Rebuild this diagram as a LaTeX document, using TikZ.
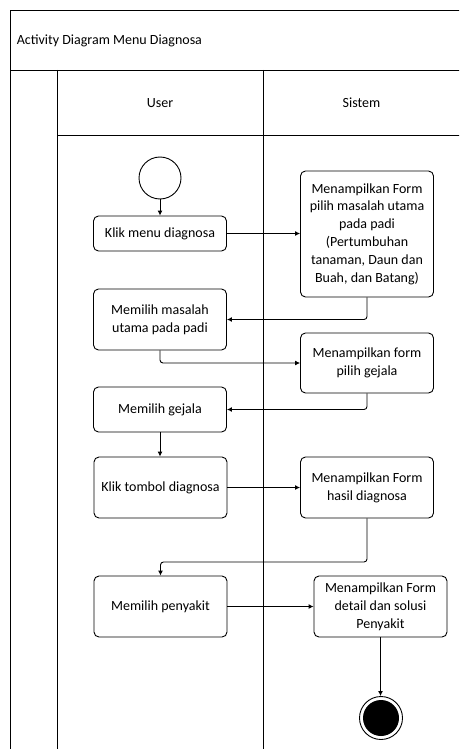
\documentclass[tikz,border=0pt]{standalone}
\usepackage{fontspec}
\setmainfont{Carlito}
\usetikzlibrary{arrows.meta}

\begin{document}
\begin{tikzpicture}[x=1pt,y=-1pt,line width=0.9pt,
        font=\fontsize{14}{17.8}\selectfont,
        activity/.style={draw,rounded corners=5pt,minimum width=133pt,align=center,inner sep=0pt},
        flow/.style={-{Latex[length=5pt,width=5pt]},rounded corners=3pt},
        lane/.style={line width=0.9pt}]
    \useasboundingbox (0,0) rectangle (459,749);
    \begin{scope}
        \clip (0,0) rectangle (459,749);
        % swimlane frame
        \draw[lane] (10,760) -- (10,10) -- (470,10);
        \draw[lane] (10,70) -- (470,70);
        \draw[lane] (57,70) -- (57,760);
        \draw[lane] (263,70) -- (263,760);
        \draw[lane] (57,135) -- (470,135);
    \end{scope}
    \node[anchor=west] (title) at (13,41) {Activity Diagram Menu Diagnosa};
    \node (user) at (160,103) {User};
    \node (sistem) at (361.5,103) {Sistem};

    % activities
    \node[circle,draw,minimum size=42pt,inner sep=0pt] (start) at (160,178) {};
    \node[activity,minimum height=35pt] (klik) at (160,233.5) {Klik menu diagnosa};
    \node[activity,minimum height=126pt] (formmasalah) at (367,234) {Menampilkan Form\\pilih masalah utama\\pada padi\\(Pertumbuhan\\tanaman, Daun dan\\Buah, dan Batang)};
    \node[activity,minimum height=61pt] (masalah) at (160,319.5) {Memilih masalah\\utama pada padi};
    \node[activity,minimum height=60pt] (formgejala) at (367,363) {Menampilkan form\\pilih gejala};
    \node[activity,minimum height=45pt] (gejala) at (160,409.5) {Memilih gejala};
    \node[activity,minimum height=61pt] (tombol) at (160.5,487.5) {Klik tombol diagnosa};
    \node[activity,minimum height=61pt] (formhasil) at (367,487.5) {Menampilkan Form\\hasil diagnosa};
    \node[activity,minimum height=61pt] (penyakit) at (160.5,606.5) {Memilih penyakit};
    \node[activity,minimum height=61pt] (formsolusi) at (380.5,606.5) {Menampilkan Form\\detail dan solusi\\Penyakit};
    \node[circle,draw,minimum size=43pt,inner sep=0pt] (finish) at (381,718) {};
    \fill (finish) circle (18pt);

    % flows
    \draw[flow] (start) -- (klik);
    \draw[flow] (klik.east) -- (klik.east -| formmasalah.west);
    \draw[flow] (formmasalah.south) |- (masalah.east);
    \draw[flow] (masalah.south) |- (formgejala.west);
    \draw[flow] (formgejala.south) |- (gejala.east);
    \draw[flow] (gejala.south) -- (gejala.south |- tombol.north);
    \draw[flow] (tombol) -- (formhasil);
    \coordinate (turn) at (367,562);
    \draw[flow] (formhasil.south) -- (turn) -| (penyakit.north);
    \draw[flow] (penyakit) -- (penyakit -| formsolusi.west);
    \draw[flow] (formsolusi.south) -- (formsolusi.south |- finish.north);
\end{tikzpicture}
\end{document}
